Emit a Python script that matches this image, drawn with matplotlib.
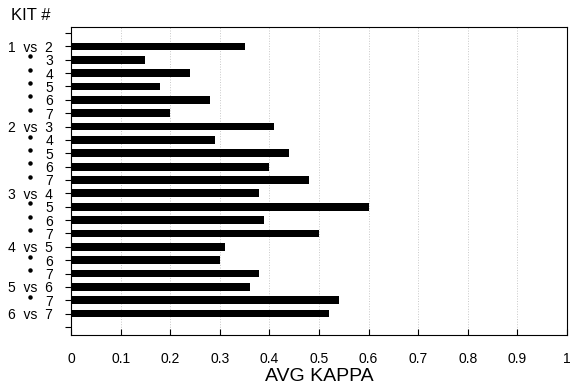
import numpy as np
import matplotlib.pyplot as plt

# kit pair comparisons, top to bottom
labels = ['1  vs  2', '3', '4', '5', '6', '7',
          '2  vs  3', '4', '5', '6', '7',
          '3  vs  4', '5', '6', '7',
          '4  vs  5', '6', '7',
          '5  vs  6', '7',
          '6  vs  7']
kappa = [0.35, 0.15, 0.24, 0.18, 0.28, 0.20,
         0.41, 0.29, 0.44, 0.40, 0.48,
         0.38, 0.60, 0.39, 0.50,
         0.31, 0.30, 0.38,
         0.36, 0.54,
         0.52]
ditto = ['vs' not in l for l in labels]
xticks = [0, 0.1, 0.2, 0.3, 0.4, 0.5, 0.6, 0.7, 0.8, 0.9, 1]
xticklabels = ['0', '0.1', '0.2', '0.3', '0.4', '0.5', '0.6', '0.7', '0.8', '0.9', '1']

plt.rcParams['font.family'] = ['Liberation Sans', 'DejaVu Sans']

fig = plt.figure(figsize=(5.73, 3.86), dpi=100)
ax = fig.add_axes([71 / 573, 1 - 335 / 386, 496 / 573, 308 / 386])

y = np.arange(1, len(kappa) + 1)
ax.barh(y, kappa, height=0.58, color='black')

ax.set_xlim(0, 1)
ax.set_xticks(xticks)
ax.set_xticklabels(xticklabels, fontsize=10)
ax.set_yticks(np.arange(0, len(kappa) + 2))
ax.set_yticklabels([''] + labels + [''], fontsize=10)
ax.set_ylim(22.6, -0.45)
ax.tick_params(axis='x', direction='in', length=4, pad=12)
ax.tick_params(axis='y', direction='out', length=4, pad=9)
ax.xaxis.grid(True, linestyle=':', color='#c8c8c8', linewidth=0.7)
ax.set_axisbelow(True)
for s in ax.spines.values():
    s.set_linewidth(0.8)

# ditto marks for repeated first kit
yd = [yi - 0.25 for yi, d in zip(y, ditto) if d]
ax.plot([-0.082] * len(yd), yd, 'o', color='black', markersize=2.2,
        transform=ax.get_yaxis_transform(), clip_on=False)

ax.set_xlabel('AVG KAPPA', fontsize=14, labelpad=2)
fig.text(11 / 573, 1 - 15 / 386, 'KIT #', fontsize=12, va='center', ha='left')

fig.savefig('out.png', dpi=100)
